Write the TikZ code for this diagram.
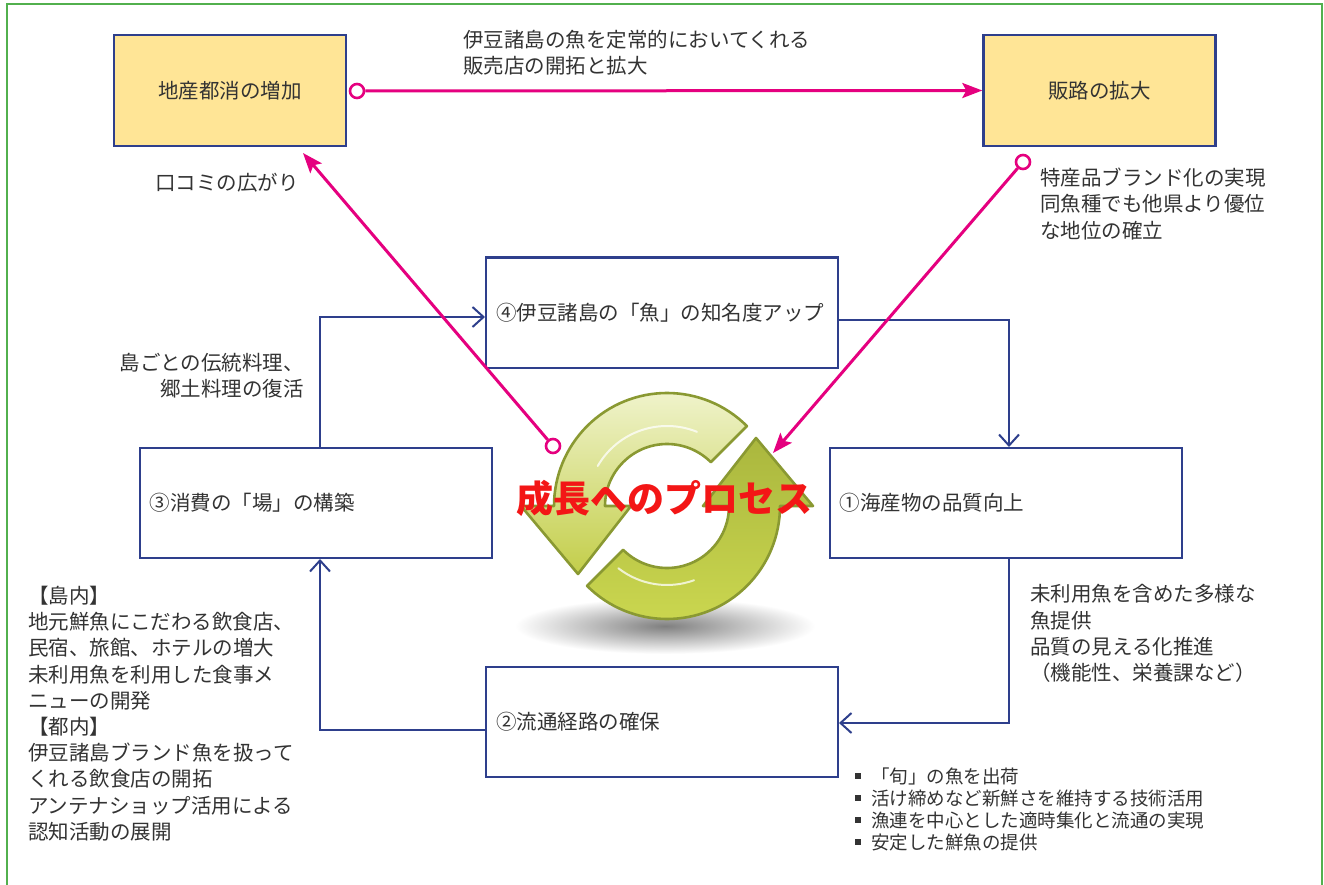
\documentclass[tikz,border=0pt]{standalone}
\usepackage{fontspec}
\setmainfont{Noto Sans CJK JP}
\usetikzlibrary{arrows.meta}
\definecolor{boxblue}{HTML}{2E3F8C}
\definecolor{boxfill}{HTML}{FFE596}
\definecolor{hot}{HTML}{E5007F}
\definecolor{ink}{HTML}{333333}
\definecolor{frame}{HTML}{52B04E}
\definecolor{olive}{HTML}{8A9932}
\definecolor{leafhi}{HTML}{F2F5D2}
\definecolor{leafmid}{HTML}{C3CE4A}
\definecolor{leafdark}{HTML}{AAB73E}
\definecolor{leaflo}{HTML}{CCD850}
\definecolor{alert}{HTML}{F31616}
\newcommand\sqmark{\raisebox{4pt}{\rule{6pt}{6pt}}\hspace{10pt}}
\begin{document}
\begin{tikzpicture}[x=1pt,y=-1pt,
  txt/.style={text=ink, font=\fontsize{20.5}{26.2}\selectfont, inner sep=0pt, align=left},
  stage/.style={draw=boxblue, line width=2pt, fill=white, inner xsep=10pt, inner ysep=0pt,
    minimum height=110pt, text width=#1, align=left, text=ink, font=\fontsize{20.5}{26.2}\selectfont},
  goal/.style={draw=boxblue, line width=2.4pt, fill=boxfill, minimum width=232pt,
    minimum height=111pt, inner sep=0pt, text=ink, font=\fontsize{20.5}{26.2}\selectfont},
  flow/.style={draw=boxblue, line width=2pt, -{Straight Barb[length=11pt,width=20pt,line width=2pt]}},
  push/.style={draw=hot, line width=3pt, -{Stealth[length=20pt,width=15pt,inset=4pt]}},
  tail/.style={circle, draw=hot, fill=white, line width=2.6pt, minimum size=14pt, inner sep=0pt},
]
\useasboundingbox (0,0) rectangle (1324,885);
\fill[white] (0,0) rectangle (1324,885);
\draw[frame, line width=2pt] (7,4) rectangle (1322,900);

% soft shadow under the cycle icon
\shade[inner color=black!50, outer color=white] (665,626) ellipse [x radius=150, y radius=28];

% cycle icon: two curved arrows chasing each other
\begin{scope}[shift={(667,506)}]
  \path[draw=olive, line width=2.6pt, line join=round, top color=leafhi, bottom color=leafmid]
    (45:113pt) arc[start angle=45, end angle=180, radius=113pt]
    -- (-146pt,0pt) -- (-89pt,-68pt) -- (-36pt,0pt) -- (-62pt,0pt)
    arc[start angle=180, end angle=45, radius=62pt] -- cycle;
  \path[draw=olive, line width=2.6pt, line join=round, top color=leafdark, bottom color=leaflo]
    (225:113pt) arc[start angle=225, end angle=360, radius=113pt]
    -- (146pt,0pt) -- (89pt,68pt) -- (36pt,0pt) -- (62pt,0pt)
    arc[start angle=360, end angle=225, radius=62pt] -- cycle;
  \draw[white, opacity=0.75, line width=2pt, line cap=round] (68:80pt) arc[start angle=68, end angle=150, radius=80pt];
  \draw[white, opacity=0.75, line width=2pt, line cap=round] (232:79pt) arc[start angle=232, end angle=290, radius=79pt];
\end{scope}

% outcome boxes
\node[goal] (local) at (230,90.5) {地産都消の増加};
\node[goal] (market) at (1099.5,90.5) {販路の拡大};

% cycle stages
\node[stage=332pt] (fame) at (662,312.5) {④伊豆諸島の「魚」の知名度アップ};
\node[stage=332pt] (place) at (315.5,503) {③消費の「場」の構築};
\node[stage=332pt] (quality) at (1005.5,503) {①海産物の品質向上};
\node[stage=332pt] (route) at (662,721.5) {②流通経路の確保};

% cycle connectors
\draw[flow] ([xshift=4.5pt]place.north) |- ([yshift=-4.5pt]fame.west);
\draw[flow] ([yshift=-7pt]fame.east) -| ([xshift=3.5pt]quality.north);
\draw[flow] ([xshift=3.5pt]quality.south) |- ([yshift=-1.5pt]route.east);
\draw[flow] ([yshift=-8.5pt]route.west) -| ([xshift=4.5pt]place.south);

% centre title
\node[font=\fontsize{37}{37}\selectfont\bfseries, text=alert, inner sep=0pt] (title) at (664,498) {成長へのプロセス};

% growth links
\node[tail] (t1) at (357,91) {};
\node[tail] (t2) at (553,446) {};
\node[tail] (t3) at (1023,162) {};
\coordinate (h2) at (303,153);
\coordinate (h3) at (773,453);
\draw[push] (t1) -- (market.west);
\draw[push] (t2) -- (h2);
\draw[push] (t3) -- (h3);

% labels
\node[txt, anchor=west] (shops) at (463,53) {伊豆諸島の魚を定常的においてくれる\\販売店の開拓と拡大};
\node[txt] (mouth) at (227,183) {口コミの広がり};
\node[txt, anchor=west] (brand) at (1040,204) {特産品ブランド化の実現\\同魚種でも他県より優位\\な地位の確立};
\node[txt, anchor=east, align=right] (dishes) at (304,375.5) {島ごとの伝統料理、\\郷土料理の復活};
\node[txt, anchor=west] (supply) at (1030,633.5) {未利用魚を含めた多様な\\魚提供\\品質の見える化推進\\（機能性、栄養課など）};
\node[txt, anchor=west] (venues) at (28,713.5) {【島内】\\地元鮮魚にこだわる飲食店、\\民宿、旅館、ホテルの増大\\未利用魚を利用した食事メ\\ニューの開発\\【都内】\\伊豆諸島ブランド魚を扱って\\くれる飲食店の開拓\\アンテナショップ活用による\\認知活動の展開};
\node[txt, anchor=west, font=\fontsize{18.5}{22}\selectfont] (notes) at (855,809)
  {\sqmark「旬」の魚を出荷\\\sqmark 活け締めなど新鮮さを維持する技術活用\\\sqmark 漁連を中心とした適時集化と流通の実現\\\sqmark 安定した鮮魚の提供};
\end{tikzpicture}
\end{document}
